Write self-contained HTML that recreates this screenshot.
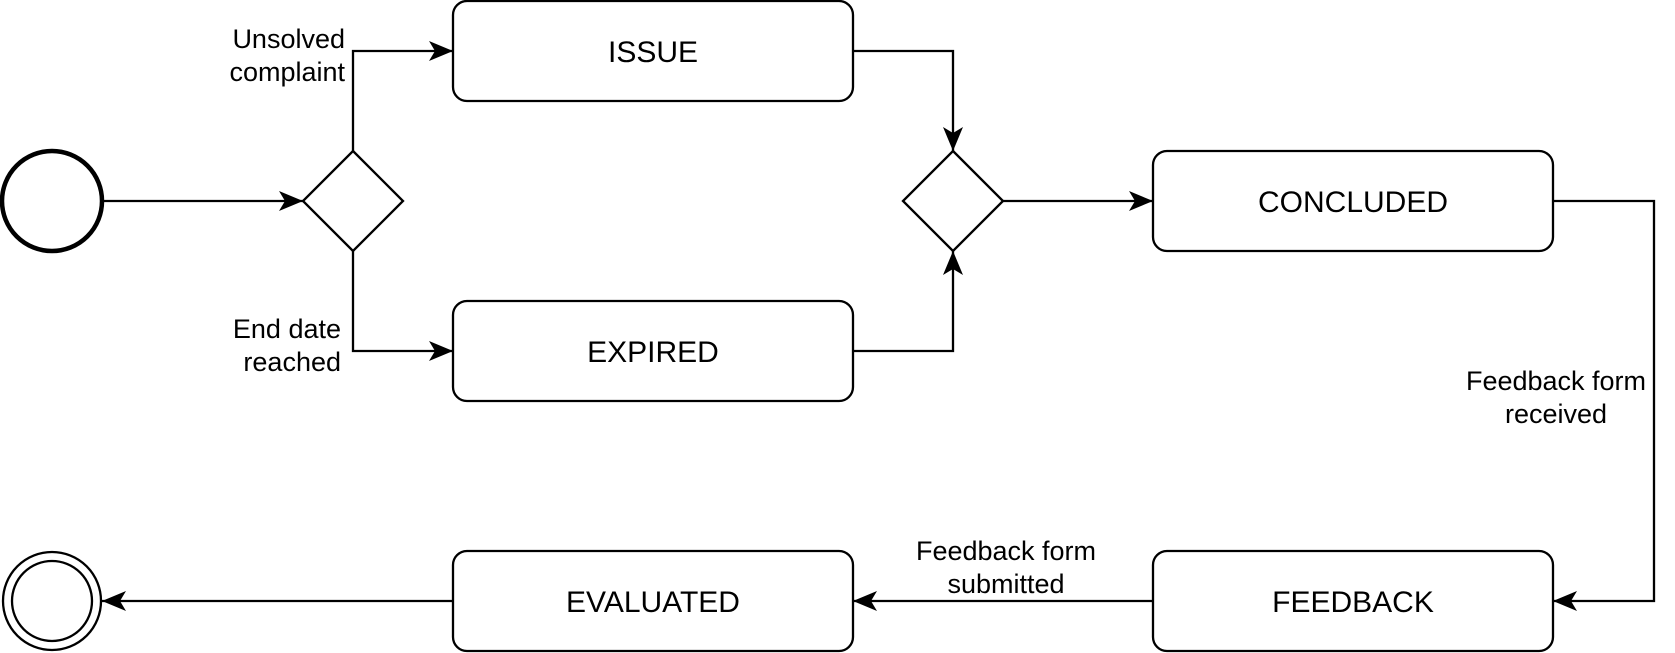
<!DOCTYPE html>
<html><head><meta charset="utf-8"><style>
html,body{margin:0;padding:0;background:#fff;}
svg{display:block;}
text{font-family:"Liberation Sans",Arial,sans-serif;fill:#000;}
</style></head><body>
<svg width="1675" height="653" viewBox="0 0 1675 653" xmlns="http://www.w3.org/2000/svg">
<defs>
<marker id="a" viewBox="0 0 24 20" refX="24" refY="10" markerWidth="24" markerHeight="20" markerUnits="userSpaceOnUse" orient="auto">
<path d="M0,0 L24,10 L0,20 L6,10 Z" fill="#000"/>
</marker>
</defs>
<g fill="none" stroke="#000" stroke-width="2.3">
<circle cx="52" cy="201" r="50" stroke-width="4.5"/>
<circle cx="52" cy="601" r="49"/>
<circle cx="52" cy="601" r="40"/>
<path d="M353 151 L403 201 L353 251 L303 201 Z" fill="#fff"/>
<path d="M953 151 L1003 201 L953 251 L903 201 Z" fill="#fff"/>
<rect x="453" y="1" width="400" height="100" rx="14" fill="#fff"/>
<rect x="453" y="301" width="400" height="100" rx="14" fill="#fff"/>
<rect x="1153" y="151" width="400" height="100" rx="14" fill="#fff"/>
<rect x="1153" y="551" width="400" height="100" rx="14" fill="#fff"/>
<rect x="453" y="551" width="400" height="100" rx="14" fill="#fff"/>
<path d="M102 201 H303" marker-end="url(#a)"/>
<path d="M353 151 V51 H453" marker-end="url(#a)"/>
<path d="M353 251 V351 H453" marker-end="url(#a)"/>
<path d="M853 51 H953 V151" marker-end="url(#a)"/>
<path d="M853 351 H953 V251" marker-end="url(#a)"/>
<path d="M1003 201 H1153" marker-end="url(#a)"/>
<path d="M1553 201 H1654 V601 H1553" marker-end="url(#a)"/>
<path d="M1153 601 H853" marker-end="url(#a)"/>
<path d="M453 601 H102" marker-end="url(#a)"/>
</g>
<g font-size="30" text-anchor="middle">
<text x="653" y="62">ISSUE</text>
<text x="653" y="362">EXPIRED</text>
<text x="1353" y="212">CONCLUDED</text>
<text x="1353" y="612">FEEDBACK</text>
<text x="653" y="612">EVALUATED</text>
</g>
<g font-size="27">
<text x="345" y="48" text-anchor="end">Unsolved</text>
<text x="345" y="81" text-anchor="end">complaint</text>
<text x="341" y="338" text-anchor="end">End date</text>
<text x="341" y="371" text-anchor="end">reached</text>
<text x="1556" y="390" text-anchor="middle">Feedback form</text>
<text x="1556" y="423" text-anchor="middle">received</text>
<text x="1006" y="560" text-anchor="middle">Feedback form</text>
<text x="1006" y="593" text-anchor="middle">submitted</text>
</g>
</svg>
</body></html>
